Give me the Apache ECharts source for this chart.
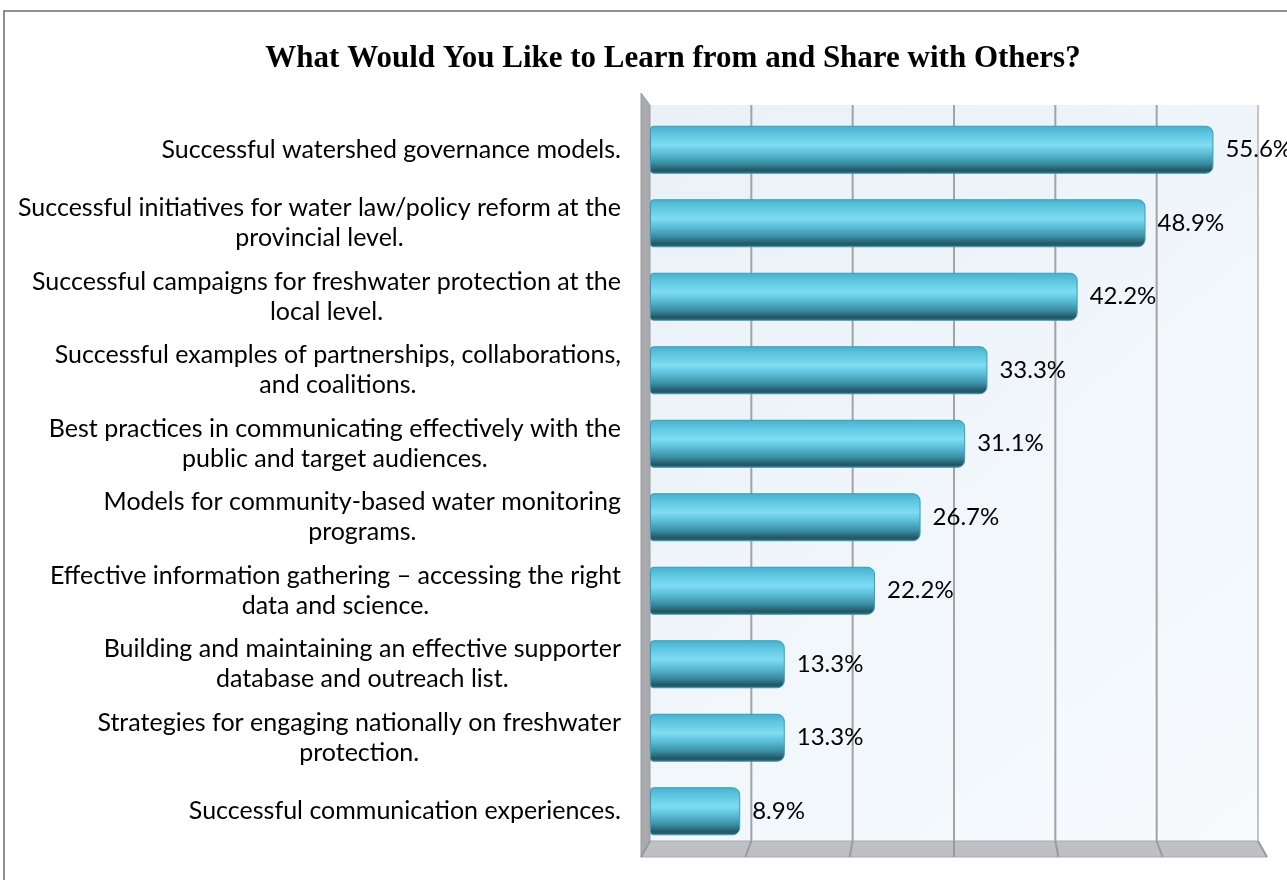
<!DOCTYPE html>
<html>
<head>
<meta charset="utf-8">
<script src="https://cdn.jsdelivr.net/npm/echarts@6/dist/echarts.min.js"></script>
<style>
  html, body { margin: 0; padding: 0; background: #ffffff; }
  #chart { width: 1287px; height: 880px; }
</style>
</head>
<body>
<div id="chart"></div>
<script>
// Survey topics, listed from top to bottom
const categories = [
  'Successful watershed governance models.',
  'Successful initiatives for water law/policy reform at the\nprovincial level.',
  'Successful campaigns for freshwater protection at the\nlocal level.',
  'Successful examples of partnerships, collaborations,\nand coalitions.',
  'Best practices in communicating effectively with the\npublic and target audiences.',
  'Models for community-based water monitoring\nprograms.',
  'Effective information gathering \u2013 accessing the right\ndata and science.',
  'Building and maintaining an effective supporter\ndatabase and outreach list.',
  'Strategies for engaging nationally on freshwater\nprotection.',
  'Successful communication experiences.'
];
// Share of respondents (%)
const values = [55.6, 48.9, 42.2, 33.3, 31.1, 26.7, 22.2, 13.3, 13.3, 8.9];
// Value axis ticks (%)
const xTicks = [0, 10, 20, 30, 40, 50, 60];

const chart = echarts.init(document.getElementById('chart'));

const GRID = { left: 650, top: 113, right: 29, bottom: 32 };
const LABEL_FONT = 'Lato, "Open Sans", sans-serif';
const LABEL_SIZE = 25;
const LABEL_LINE = 30;
const LABEL_RIGHT = 621;

const cylinder = new echarts.graphic.LinearGradient(0, 0, 0, 1, [
  { offset: 0, color: '#49afcb' },
  { offset: 0.18, color: '#5fc7e1' },
  { offset: 0.4, color: '#7fdcf3' },
  { offset: 0.58, color: '#5abdd6' },
  { offset: 0.78, color: '#3a8ea4' },
  { offset: 0.93, color: '#235665' },
  { offset: 1, color: '#2d6f80' }
]);

chart.setOption({
  animation: false,
  title: {
    text: 'What Would You Like to Learn from and Share with Others?',
    left: 668,
    textAlign: 'center',
    top: 38,
    textStyle: {
      fontFamily: '"Liberation Serif", serif',
      fontWeight: 'bold',
      fontSize: 31,
      color: '#000'
    }
  },
  grid: GRID,
  xAxis: {
    type: 'value',
    min: xTicks[0],
    max: xTicks[xTicks.length - 1],
    interval: 10,
    axisLine: { show: false },
    axisTick: { show: false },
    axisLabel: { show: false },
    splitLine: { show: false }
  },
  yAxis: {
    type: 'category',
    data: categories,
    inverse: true,
    offset: 9,
    axisLine: { show: false },
    axisTick: { show: true, length: 8, lineStyle: { color: '#8c8c8c', width: 1.5 } },
    axisLabel: { show: false }
  },
  series: [{
    type: 'bar',
    data: values,
    barWidth: 48,
    z: 10,
    itemStyle: {
      color: cylinder,
      borderColor: '#3a9cb5',
      borderWidth: 1,
      borderRadius: [3, 7, 7, 3]
    },
    label: {
      show: true,
      position: 'right',
      distance: 12,
      formatter: p => p.value + '%',
      fontFamily: LABEL_FONT,
      fontSize: 24,
      color: '#000'
    }
  }]
});

// Walls, floor, gridlines and category labels positioned from the axes
function drawFrame() {
  const px = v => chart.convertToPixel({ xAxisIndex: 0 }, v);
  const py = i => chart.convertToPixel({ yAxisIndex: 0 }, i);
  const x0 = px(xTicks[0]);
  const xEnd = px(xTicks[xTicks.length - 1]);
  const backTop = 105, backBottom = 841, frontBottom = 857, frontTop = 93;
  const depthX = 9;
  const els = [];

  // outer frame
  els.push({
    type: 'rect', z: 0, silent: true,
    shape: { x: 4, y: 11, width: 1320, height: 900 },
    style: { fill: null, stroke: '#8f8f8f', lineWidth: 2 }
  });
  // back wall
  els.push({
    type: 'rect', z: 1, silent: true,
    shape: { x: x0, y: backTop, width: xEnd - x0, height: backBottom - backTop },
    style: {
      fill: new echarts.graphic.LinearGradient(0, 0, 1, 1, [
        { offset: 0, color: '#e9f1f7' },
        { offset: 1, color: '#f7fbfe' }
      ])
    }
  });
  // floor
  els.push({
    type: 'polygon', z: 1, silent: true,
    shape: { points: [[x0, backBottom], [xEnd, backBottom], [xEnd + depthX, frontBottom], [x0 - depthX, frontBottom]] },
    style: { fill: '#bfc0c3', stroke: '#a9aaad', lineWidth: 1 }
  });
  // left wall
  els.push({
    type: 'polygon', z: 1, silent: true,
    shape: { points: [[x0 - depthX, frontTop], [x0, backTop], [x0, backBottom], [x0 - depthX, frontBottom]] },
    style: { fill: '#a9aaad', stroke: '#9a9b9e', lineWidth: 1 }
  });
  // gridlines on the back wall continuing across the floor
  xTicks.forEach((t, i) => {
    const x = px(t);
    const fx = x0 - depthX + (xEnd + depthX - (x0 - depthX)) * i / (xTicks.length - 1);
    if (i > 0) {
      els.push({
        type: 'line', z: 2, silent: true,
        shape: { x1: x, y1: backTop, x2: x, y2: backBottom },
        style: { stroke: i === xTicks.length - 1 ? '#c4c4c4' : '#a3a3a3', lineWidth: 2 }
      });
    }
    els.push({
      type: 'line', z: 2, silent: true,
      shape: { x1: x, y1: backBottom, x2: fx, y2: frontBottom },
      style: { stroke: '#9a9a9a', lineWidth: 2 }
    });
  });

  // category labels: block right-aligned to the axis, lines centred inside it
  const ctx = document.createElement('canvas').getContext('2d');
  ctx.font = LABEL_SIZE + 'px ' + LABEL_FONT;
  categories.forEach((c, i) => {
    const w = Math.max(...c.split('\n').map(l => ctx.measureText(l).width));
    els.push({
      type: 'text', z: 5, silent: true,
      x: LABEL_RIGHT - w / 2,
      y: py(i),
      style: {
        text: c,
        align: 'center',
        verticalAlign: 'middle',
        font: LABEL_SIZE + 'px ' + LABEL_FONT,
        lineHeight: LABEL_LINE,
        fill: '#000'
      }
    });
  });
  chart.setOption({ graphic: els });
}
drawFrame();
</script>
</body>
</html>
